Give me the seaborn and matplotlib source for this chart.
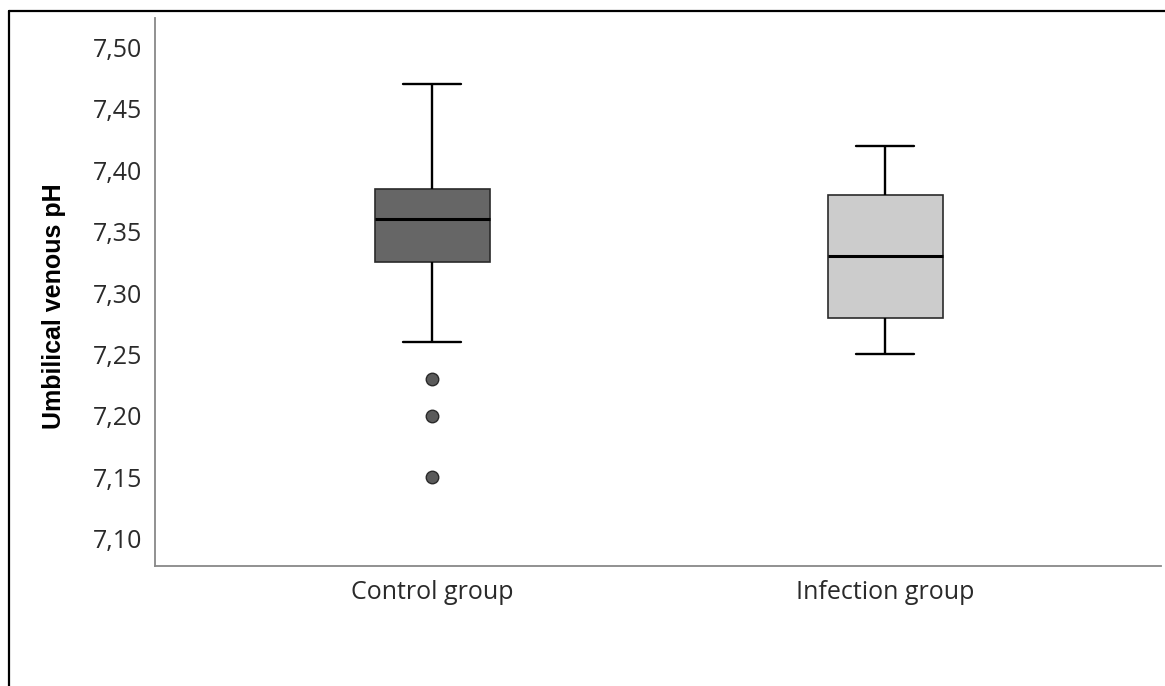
import matplotlib
matplotlib.use("Agg")
import matplotlib.pyplot as plt
from matplotlib.lines import Line2D
import seaborn as sns
import pandas as pd

# ---- data ----
groups = ["Control group", "Infection group"]
q1 = [7.325, 7.28]
median = [7.36, 7.33]
q3 = [7.385, 7.38]
whisker_low = [7.26, 7.25]
whisker_high = [7.47, 7.42]
outliers = [[7.15, 7.20, 7.23], []]
box_colors = ["#666666", "#cccccc"]
y_ticks = [7.10, 7.15, 7.20, 7.25, 7.30, 7.35, 7.40, 7.45, 7.50]
y_tick_labels = ["7,10", "7,15", "7,20", "7,25", "7,30", "7,35", "7,40", "7,45", "7,50"]
y_label = "Umbilical venous pH"


def sample_from_summary(lo, a, m, b, hi, out):
    # sorted sample whose linear percentiles give exactly a / m / b
    k = len(out) + 1
    lower = list(out) + [lo] * (k - len(out))
    return lower + [a] * k + [m] * k + [b] * k + [hi]


rows = []
for i, g in enumerate(groups):
    for v in sample_from_summary(whisker_low[i], q1[i], median[i], q3[i],
                                 whisker_high[i], outliers[i]):
        rows.append({"group": g, "pH": v})
df = pd.DataFrame(rows)

sns.set_style("white")
plt.rcParams["font.family"] = ["Open Sans", "DejaVu Sans"]

W, H = 1165, 686
fig = plt.figure(figsize=(W / 100, H / 100), dpi=100)
ax_left, ax_right, ax_top, ax_bottom = 155, 1161, 18, 565.7
ax = fig.add_axes([ax_left / W, (H - ax_bottom) / H,
                   (ax_right - ax_left) / W, (ax_bottom - ax_top) / H])

sns.boxplot(
    data=df, x="group", y="pH", hue="group", order=groups, hue_order=groups,
    palette=box_colors, saturation=1, width=0.254, whis=1.5, legend=False,
    linecolor="black", linewidth=1.5, ax=ax,
    boxprops=dict(edgecolor="#2a2a2a", linewidth=1.2),
    whiskerprops=dict(color="black", linewidth=1.7),
    capprops=dict(color="black", linewidth=1.7),
    medianprops=dict(color="black", linewidth=2.2),
    flierprops=dict(marker="o", markersize=9, markerfacecolor="#5a5a5a",
                    markeredgecolor="#2a2a2a", markeredgewidth=1.0),
)

ax.set_xlim(-0.6115, 1.609)
ax.set_ylim(7.078, 7.524)
ax.set_yticks(y_ticks)
ax.set_yticklabels(y_tick_labels)
ax.tick_params(axis="both", length=0, labelsize=18, colors="#2a2a2a")
ax.tick_params(axis="y", pad=9)
ax.tick_params(axis="x", pad=10)
ax.set_xlabel("")
ax.set_ylabel(y_label, fontsize=18, fontweight="bold",
              family=["Liberation Sans", "DejaVu Sans"], color="black")
ax.yaxis.set_label_coords(-0.088, 0.4735)

for s in ["top", "right"]:
    ax.spines[s].set_visible(False)
for s in ["left", "bottom"]:
    ax.spines[s].set_color("#888888")
    ax.spines[s].set_linewidth(1.3)
ax.grid(False)

# outer frame (top and left edges visible in the reference)
fx = 8.5 / W
fy = (H - 11) / H
fig.add_artist(Line2D([fx, fx], [0, fy], transform=fig.transFigure,
                      color="black", linewidth=1.6))
fig.add_artist(Line2D([fx, 1.0], [fy, fy], transform=fig.transFigure,
                      color="black", linewidth=1.6))

fig.savefig("out.png", dpi=100, facecolor="white")
